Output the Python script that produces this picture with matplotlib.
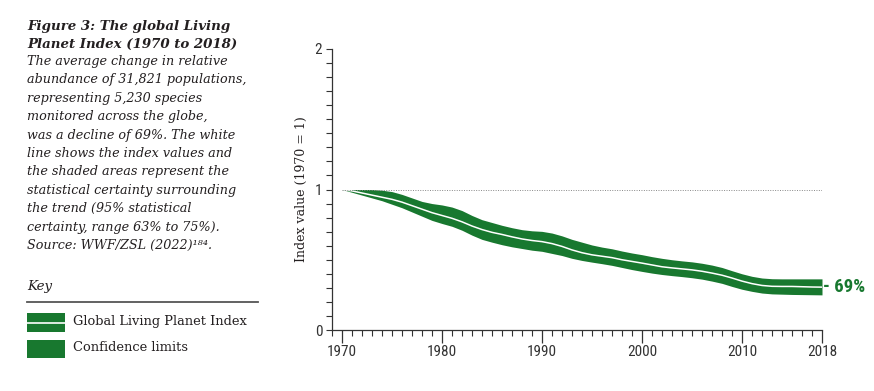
import matplotlib
matplotlib.use("Agg")
import matplotlib.pyplot as plt
from matplotlib.patches import Rectangle
from matplotlib.lines import Line2D
from matplotlib.ticker import MultipleLocator, FixedLocator
from matplotlib import font_manager

# Living Planet Index (1970 = 1)
years = list(range(1970, 2019))
lpi = [1.00, 0.99, 0.975, 0.96, 0.945, 0.93, 0.91, 0.885, 0.86, 0.835,
       0.815, 0.795, 0.77, 0.74, 0.715, 0.695, 0.68, 0.663, 0.648, 0.637,
       0.629, 0.615, 0.595, 0.57, 0.55, 0.535, 0.525, 0.515, 0.50, 0.488,
       0.476, 0.463, 0.45, 0.442, 0.435, 0.428, 0.418, 0.405, 0.39, 0.37,
       0.348, 0.33, 0.317, 0.311, 0.31, 0.31, 0.308, 0.306, 0.305]
upper = [1.00, 1.00, 1.00, 1.00, 0.995, 0.985, 0.965, 0.94, 0.915, 0.90,
         0.89, 0.875, 0.85, 0.815, 0.785, 0.765, 0.745, 0.728, 0.714, 0.706,
         0.702, 0.69, 0.67, 0.645, 0.625, 0.605, 0.59, 0.578, 0.562, 0.548,
         0.536, 0.522, 0.51, 0.50, 0.492, 0.485, 0.475, 0.462, 0.445, 0.422,
         0.40, 0.382, 0.37, 0.365, 0.364, 0.364, 0.364, 0.364, 0.364]
lower = [1.00, 0.98, 0.96, 0.94, 0.92, 0.895, 0.87, 0.84, 0.81, 0.78,
         0.758, 0.738, 0.71, 0.675, 0.645, 0.625, 0.607, 0.592, 0.58, 0.568,
         0.56, 0.545, 0.53, 0.51, 0.495, 0.483, 0.472, 0.46, 0.445, 0.43,
         0.417, 0.405, 0.395, 0.387, 0.38, 0.372, 0.362, 0.348, 0.332, 0.31,
         0.29, 0.275, 0.263, 0.257, 0.255, 0.253, 0.252, 0.251, 0.25]
major_years = [1970, 1980, 1990, 2000, 2010, 2018]
final_label = "- 69%"

title_lines = ["Figure 3: The global Living", "Planet Index (1970 to 2018)"]
body_lines = ["The average change in relative",
              "abundance of 31,821 populations,",
              "representing 5,230 species",
              "monitored across the globe,",
              "was a decline of 69%. The white",
              "line shows the index values and",
              "the shaded areas represent the",
              "statistical certainty surrounding",
              "the trend (95% statistical",
              "certainty, range 63% to 75%).",
              "Source: WWF/ZSL (2022)\u00b9\u2078\u2074."]
legend_labels = ["Global Living Planet Index", "Confidence limits"]

green = "#18782f"
dark = "#231f20"
W, H = 874, 391
serif = ["DejaVu Serif"]
installed = {f.name for f in font_manager.fontManager.ttflist}
narrow = [f for f in ["Liberation Sans Narrow", "Roboto Condensed", "Roboto"] if f in installed] + ["DejaVu Sans"]

fig = plt.figure(figsize=(W / 100, H / 100), dpi=100)


def fx(px):
    return px / W


def fy(py):
    return 1 - py / H


ax = fig.add_axes([fx(332), fy(330), fx(822) - fx(332), fy(49) - fy(330)])
ax.fill_between(years, lower, upper, color=green, linewidth=0)
ax.plot(years, lpi, color="white", linewidth=1.1)
ax.plot([1970, 2018], [1, 1], color="#888888", linestyle=(0, (1, 1.5)), linewidth=0.7)
ax.set_xlim(1969, 2018)
ax.set_ylim(0, 2)

for s in ["top", "right"]:
    ax.spines[s].set_visible(False)
for s in ["left", "bottom"]:
    ax.spines[s].set_color("#333333")
    ax.spines[s].set_linewidth(0.9)

ax.xaxis.set_major_locator(FixedLocator(major_years))
ax.xaxis.set_minor_locator(MultipleLocator(1))
ax.set_xticklabels([str(y) for y in major_years])
ax.yaxis.set_major_locator(FixedLocator([0, 1, 2]))
ax.yaxis.set_minor_locator(MultipleLocator(0.1))
ax.tick_params(axis="x", which="major", length=9, width=0.9, color="#333333", pad=2)
ax.tick_params(axis="x", which="minor", length=4.5, width=0.8, color="#333333")
ax.tick_params(axis="y", which="both", length=4, width=0.8, color="#333333", pad=3)
for lab in ax.get_xticklabels() + ax.get_yticklabels():
    lab.set_family(narrow)
    lab.set_fontsize(11)
    lab.set_color("#333333")

ax.set_ylabel("Index value (1970 = 1)", family=serif, fontsize=9, color=dark, labelpad=5)

ax.annotate(final_label, xy=(years[-1], lpi[-1]), xytext=(0.5, 0), textcoords="offset points",
            ha="left", va="center", color=green, fontsize=13.5, fontweight="bold",
            family=narrow, annotation_clip=False)

# left-hand caption
fig.text(fx(27), fy(30), title_lines[0], family=serif, style="italic", weight="bold",
         fontsize=9.6, color=dark, va="baseline")
fig.text(fx(27), fy(47.5), title_lines[1], family=serif, style="italic", weight="bold",
         fontsize=9.6, color=dark, va="baseline")
for i, line in enumerate(body_lines):
    fig.text(fx(27), fy(65 + i * 18.4), line, family=serif, style="italic",
             fontsize=9.2, color=dark, va="baseline")

# key
fig.text(fx(27), fy(290), "Key", family=serif, style="italic", fontsize=9.6,
         color=dark, va="baseline")
fig.add_artist(Line2D([fx(27), fx(258)], [fy(302), fy(302)], color="#555555", linewidth=1.3))
fig.add_artist(Rectangle((fx(27), fy(332)), fx(65) - fx(27), fy(313) - fy(332),
                         color=green, linewidth=0))
fig.add_artist(Line2D([fx(27), fx(65)], [fy(322.5), fy(322.5)], color="white", linewidth=1.2))
fig.add_artist(Rectangle((fx(27), fy(358)), fx(65) - fx(27), fy(340) - fy(358),
                         color=green, linewidth=0))
fig.text(fx(73), fy(325.5), legend_labels[0], family=serif, fontsize=9.4, color=dark, va="baseline")
fig.text(fx(73), fy(351), legend_labels[1], family=serif, fontsize=9.4, color=dark, va="baseline")

fig.savefig("out.png", dpi=100)
